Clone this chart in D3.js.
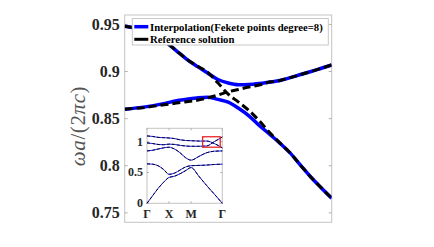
<!DOCTYPE html>
<html>
<head>
<meta charset="utf-8">
<script src="https://cdn.jsdelivr.net/npm/d3@7"></script>
<style>
  body { margin: 0; background: #fff; }
  svg { display: block; }
  text { font-family: "Liberation Serif", "Times New Roman", serif; }
</style>
</head>
<body>
<div id="chartSection"></div>
<script>
// main plot: position along the path (0..1) and band frequencies
var kMain = [0, 0.1, 0.2, 0.25, 0.3, 0.35, 0.4, 0.45, 0.5, 0.55, 0.6, 0.65, 0.7, 0.75, 0.8, 0.85, 0.9, 0.95, 1];
var interpUpper = [0.948, 0.943, 0.931, 0.922, 0.913, 0.9055, 0.8985, 0.8915, 0.8878, 0.886, 0.8862, 0.8872, 0.8888, 0.8905, 0.8935, 0.8968, 0.9, 0.9035, 0.907];
var interpLower = [0.860, 0.8625, 0.8665, 0.869, 0.8705, 0.872, 0.8728, 0.8705, 0.8675, 0.861, 0.853, 0.8428, 0.8335, 0.824, 0.8134, 0.8005, 0.7878, 0.7765, 0.7655];
var refFalling = [0.948, 0.943, 0.931, 0.922, 0.913, 0.906, 0.8993, 0.888, 0.876, 0.8675, 0.8587, 0.8477, 0.8353, 0.824, 0.8134, 0.8005, 0.7878, 0.7765, 0.7655];
var refRising = [0.860, 0.862, 0.865, 0.8665, 0.868, 0.8695, 0.872, 0.875, 0.8785, 0.881, 0.8835, 0.8857, 0.8888, 0.8905, 0.8935, 0.8968, 0.9, 0.9035, 0.907];
var yTicks = [0.75, 0.8, 0.85, 0.9, 0.95];
var legendLabels = ["Interpolation(Fekete points degree=8)", "Reference solution"];

// inset: full band structure along Γ-X-M-Γ
var kInset = [0, 0.25, 0.5, 0.75, 1, 1.25, 1.5, 1.75, 2, 2.35, 2.7, 3.05, 3.414];
var insetBands = [
  [0, 0.12, 0.24, 0.34, 0.42, 0.44, 0.48, 0.53, 0.58, 0.44, 0.29, 0.15, 0],
  [0.64, 0.635, 0.61, 0.55, 0.47, 0.49, 0.54, 0.59, 0.61, 0.615, 0.62, 0.63, 0.635],
  [0.85, 0.86, 0.88, 0.9, 0.91, 0.88, 0.82, 0.74, 0.70, 0.76, 0.82, 0.845, 0.85],
  [0.98, 0.97, 0.955, 0.95, 0.96, 0.955, 0.94, 0.93, 0.925, 0.925, 0.93, 1.0, 1.076],
  [1.093, 1.085, 1.07, 1.065, 1.06, 1.05, 1.03, 1.02, 1.015, 1.01, 1.01, 0.97, 0.90]
];
var insetTickPos = [0, 1, 2, 3.414];
var insetTickLabels = ["Γ", "X", "M", "Γ"];
var insetYTicks = [0, 0.5, 1];
var zoomBox = { k: [2.52, 3.32], w: [0.91, 1.08] };

var width = 434, height = 247;
var svg = d3.select("#chartSection").append("svg")
    .attr("width", width).attr("height", height);

var mLeft = 124.7, mRight = 331.7, mTop = 15, mBottom = 222.3;

var xScale = d3.scaleLinear().domain([0, 1]).range([mLeft, mRight]);
var yScale = d3.scaleLinear().domain([0.74, 0.96]).range([mBottom, mTop]);

svg.append("defs").append("clipPath").attr("id", "plotClip")
    .append("rect").attr("x", mLeft).attr("y", mTop)
    .attr("width", mRight - mLeft).attr("height", mBottom - mTop);

// frame
svg.append("rect")
    .attr("x", mLeft).attr("y", mTop)
    .attr("width", mRight - mLeft).attr("height", mBottom - mTop)
    .attr("fill", "none").attr("stroke", "#c4c4c4").attr("stroke-width", 1);

// y ticks, inward on both sides
var tickG = svg.append("g");
yTicks.forEach(function(t) {
    var y = yScale(t);
    tickG.append("line").attr("x1", mLeft).attr("x2", mLeft + 3).attr("y1", y).attr("y2", y)
        .attr("stroke", "#b0b0b0");
    tickG.append("line").attr("x1", mRight - 3).attr("x2", mRight).attr("y1", y).attr("y2", y)
        .attr("stroke", "#b0b0b0");
    tickG.append("text")
        .attr("x", mLeft - 5).attr("y", y)
        .attr("text-anchor", "end").attr("dominant-baseline", "central")
        .attr("font-size", 16).attr("font-weight", "bold").attr("fill", "#262626")
        .text(d3.format(".2~f")(t));
});

// y label
var yl = svg.append("text")
    .attr("transform", "translate(85,126) rotate(-90)")
    .attr("text-anchor", "middle")
    .attr("font-size", 21).attr("letter-spacing", 0.6).attr("fill", "#555");
[["ω", true], ["a", true], ["/(2", false], ["π", true], ["c", true], [")", false]].forEach(function(p) {
    yl.append("tspan").attr("font-style", p[1] ? "italic" : "normal").text(p[0]);
});

var line = d3.line()
    .x(function(d) { return xScale(d[0]); })
    .y(function(d) { return yScale(d[1]); })
    .curve(d3.curveMonotoneX);

var curves = svg.append("g").attr("clip-path", "url(#plotClip)");
[interpUpper, interpLower].forEach(function(s) {
    curves.append("path")
        .attr("d", line(d3.zip(kMain, s)))
        .attr("fill", "none").attr("stroke", "#0000ff").attr("stroke-width", 3.5);
});
[refFalling, refRising].forEach(function(s) {
    curves.append("path")
        .attr("d", line(d3.zip(kMain, s)))
        .attr("fill", "none").attr("stroke", "#000").attr("stroke-width", 3)
        .attr("stroke-dasharray", "8,4");
});

// legend
var lg = svg.append("g");
lg.append("rect").attr("x", 132.3).attr("y", 18.5).attr("width", 196).attr("height", 26.5)
    .attr("fill", "#fff").attr("stroke", "#c8c8c8");
legendLabels.forEach(function(lab, i) {
    var y = 26.7 + i * 12.6;
    lg.append("line").attr("x1", 134.3).attr("x2", 148.3).attr("y1", y).attr("y2", y)
        .attr("stroke", i == 0 ? "#0000ff" : "#000").attr("stroke-width", i == 0 ? 3.5 : 3);
    lg.append("text").attr("x", 150).attr("y", y)
        .attr("dominant-baseline", "central")
        .attr("font-size", 10.7).attr("font-weight", "bold").attr("fill", "#000")
        .text(lab);
});

// inset
var iLeft = 147, iRight = 222.3, iTop = 128.3, iBottom = 203.3;
var ix = d3.scaleLinear().domain([0, 3.414]).range([iLeft, iRight]);
var iy = d3.scaleLinear().domain([0, 1.217]).range([iBottom, iTop]);

var inset = svg.append("g");
inset.append("rect").attr("x", iLeft).attr("y", iTop)
    .attr("width", iRight - iLeft).attr("height", iBottom - iTop)
    .attr("fill", "#fff").attr("stroke", "#c4c4c4");

insetTickPos.forEach(function(k, i) {
    var x = ix(k);
    inset.append("line").attr("x1", x).attr("x2", x).attr("y1", iTop).attr("y2", iTop + 2).attr("stroke", "#b0b0b0");
    inset.append("line").attr("x1", x).attr("x2", x).attr("y1", iBottom - 2).attr("y2", iBottom).attr("stroke", "#b0b0b0");
    inset.append("text").attr("x", x).attr("y", 213.5)
        .attr("text-anchor", "middle").attr("dominant-baseline", "central")
        .attr("font-size", 12).attr("font-weight", "bold").attr("fill", "#262626")
        .text(insetTickLabels[i]);
});
insetYTicks.forEach(function(t) {
    var y = iy(t);
    inset.append("line").attr("x1", iLeft).attr("x2", iLeft + 2).attr("y1", y).attr("y2", y).attr("stroke", "#b0b0b0");
    inset.append("line").attr("x1", iRight - 2).attr("x2", iRight).attr("y1", y).attr("y2", y).attr("stroke", "#b0b0b0");
    inset.append("text").attr("x", iLeft - 4).attr("y", y)
        .attr("text-anchor", "end").attr("dominant-baseline", "central")
        .attr("font-size", 12).attr("font-weight", "bold").attr("fill", "#262626")
        .text(t);
});

var iline = d3.line()
    .x(function(d) { return ix(d[0]); })
    .y(function(d) { return iy(d[1]); })
    .curve(d3.curveMonotoneX);

insetBands.forEach(function(b) {
    inset.append("path").attr("d", iline(d3.zip(kInset, b)))
        .attr("fill", "none").attr("stroke", "#2020ff").attr("stroke-width", 1);
    inset.append("path").attr("d", iline(d3.zip(kInset, b)))
        .attr("fill", "none").attr("stroke", "#000").attr("stroke-width", 0.9)
        .attr("stroke-dasharray", "3,2");
});

inset.append("rect")
    .attr("x", ix(zoomBox.k[0])).attr("y", iy(zoomBox.w[1]))
    .attr("width", ix(zoomBox.k[1]) - ix(zoomBox.k[0]))
    .attr("height", iy(zoomBox.w[0]) - iy(zoomBox.w[1]))
    .attr("fill", "none").attr("stroke", "#e8262b").attr("stroke-width", 1.3);
</script>
</body>
</html>
